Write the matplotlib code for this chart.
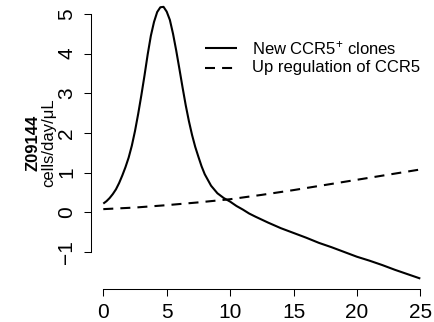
import matplotlib
matplotlib.use("Agg")
import matplotlib.pyplot as plt
from matplotlib.lines import Line2D

plt.rcParams['font.family'] = ['Liberation Sans', 'DejaVu Sans']
plt.rcParams['mathtext.fontset'] = 'custom'
plt.rcParams['mathtext.rm'] = 'Liberation Sans'
plt.rcParams['mathtext.it'] = 'Liberation Sans:italic'
plt.rcParams['mathtext.bf'] = 'Liberation Sans:bold'

# Days since start
days_new = [0, 0.25, 0.5, 0.75, 1, 1.25, 1.5, 1.75, 2, 2.25, 2.5, 2.75,
            3, 3.25, 3.5, 3.75, 4, 4.25, 4.5, 4.75, 5, 5.25, 5.5, 5.75,
            6, 6.25, 6.5, 6.75, 7, 7.25, 7.5, 7.75, 8, 8.5, 9, 9.5,
            10, 10.5, 11, 11.5, 12, 13, 14, 15, 16, 17, 18, 19, 20, 21,
            22, 23, 24, 25]
# Production of new CCR5+ clones (cells/day/uL)
new_clones = [0.22, 0.28, 0.36, 0.46, 0.58, 0.74, 0.93, 1.14, 1.38, 1.68,
              2.05, 2.48, 2.95, 3.45, 3.98, 4.45, 4.80, 5.05, 5.17, 5.18,
              5.06, 4.85, 4.50, 4.08, 3.62, 3.15, 2.70, 2.30, 1.95, 1.65,
              1.40, 1.16, 0.96, 0.67, 0.48, 0.36, 0.27, 0.16, 0.07, -0.03,
              -0.11, -0.26, -0.40, -0.52, -0.64, -0.77, -0.88, -1.00, -1.12,
              -1.22, -1.33, -1.45, -1.56, -1.67]

days_up = [0, 2.5, 5, 7.5, 10, 12.5, 15, 17.5, 20, 22.5, 25]
# Up regulation of CCR5 on existing cells (cells/day/uL)
up_regulation = [0.08, 0.12, 0.18, 0.25, 0.33, 0.44, 0.56, 0.69, 0.82, 0.95, 1.08]

x_ticks = [0, 5, 10, 15, 20, 25]
y_ticks = [-1, 0, 1, 2, 3, 4, 5]
y_tick_labels = ['\u22121', '0', '1', '2', '3', '4', '5']

W, H = 434, 322
fig = plt.figure(figsize=(W / 100, H / 100), dpi=100)
ax = fig.add_axes([103.3 / W, 1 - 283.7 / H, 317 / W, 281.6 / H])

lw = 1.5
ax.plot(days_new, new_clones, color='black', lw=lw, clip_on=False,
        solid_capstyle='butt', solid_joinstyle='round')
ax.plot(days_up, up_regulation, color='black', lw=lw, clip_on=False,
        linestyle=(0, (4.8, 3.4)), dash_capstyle='butt')

ax.set_xlim(0, 25)
ax.set_ylim(-1.8, 5.3)

for side in ('top', 'right'):
    ax.spines[side].set_visible(False)
ax.spines['left'].set_position(('outward', 9.0))
ax.spines['bottom'].set_position(('outward', 4.0))
ax.spines['left'].set_bounds(-1, 5)
ax.spines['bottom'].set_bounds(0, 25)
for side in ('left', 'bottom'):
    ax.spines[side].set_linewidth(0.75)

ax.set_xticks(x_ticks)
ax.set_xticklabels([str(t) for t in x_ticks])
ax.set_yticks(y_ticks)
ax.set_yticklabels(y_tick_labels, rotation=90, va='center')
ax.tick_params(axis='both', length=5.3, width=0.75, labelsize=15,
               direction='out')
ax.tick_params(axis='x', pad=4.5)
ax.tick_params(axis='y', pad=5.2)

# Two-line y axis label
fig.text(33 / W, 1 - 143 / H, 'Z09144', rotation=90, ha='center',
         va='center', fontsize=12, fontweight='bold')
fig.text(49 / W, 1 - 143 / H, 'cells/day/\u03bcL', rotation=90,
         ha='center', va='center', fontsize=12)

# Legend
rows = [(48.3, '-', 'New CCR5$^{+}$ clones'),
        (67.7, (0, (4.8, 3.4)), 'Up regulation of CCR5')]
for y, ls, label in rows:
    fy = 1 - y / H
    fig.add_artist(Line2D([205 / W, 237 / W], [fy, fy], color='black',
                          lw=lw, linestyle=ls, dash_capstyle='butt',
                          solid_capstyle='butt'))
    fig.text(251.7 / W, fy, label, ha='left', va='center', fontsize=12)

fig.savefig('out.png', dpi=100)
